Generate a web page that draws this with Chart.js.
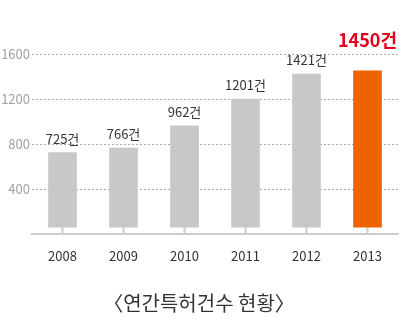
<!DOCTYPE html>
<html>
<head>
<meta charset="utf-8">
<script src="https://cdn.jsdelivr.net/npm/chart.js@4.4.0/dist/chart.umd.min.js"></script>
<style>
  html, body { margin: 0; padding: 0; background: #fff; }
  #wrap { width: 405px; height: 328px; position: relative; }
</style>
</head>
<body>
<div id="wrap"><canvas id="patentChart"></canvas></div>
<script>
// yearly patent counts
const years = ["2008", "2009", "2010", "2011", "2012", "2013"];
const patents = [725, 766, 962, 1201, 1421, 1450];
const yTicks = [400, 800, 1200, 1600];
const barBase = 65; // bars start a little above the axis line

const FONT = "'Noto Sans CJK KR', 'Noto Sans', sans-serif";
const barColors = patents.map((v, i) => i === patents.length - 1 ? "#ee6200" : "#c8c8c8");

// short stubs joining each bar to the axis line
const barStubs = {
  id: "barStubs",
  beforeDatasetsDraw(chart) {
    const ctx = chart.ctx;
    const y0 = chart.scales.y.getPixelForValue(0);
    ctx.save();
    ctx.strokeStyle = "#cccccc";
    ctx.lineWidth = 2;
    chart.getDatasetMeta(0).data.forEach(bar => {
      ctx.beginPath();
      ctx.moveTo(bar.x, bar.base);
      ctx.lineTo(bar.x, y0);
      ctx.stroke();
    });
    ctx.restore();
  }
};

// "NNN건" labels above the bars, last one highlighted
const valueLabels = {
  id: "valueLabels",
  afterDatasetsDraw(chart) {
    const ctx = chart.ctx;
    chart.getDatasetMeta(0).data.forEach((bar, i) => {
      const last = i === patents.length - 1;
      ctx.save();
      ctx.font = (last ? "bold 18px " : "13px ") + FONT;
      ctx.fillStyle = last ? "#e2001a" : "#333333";
      ctx.textAlign = "center";
      ctx.textBaseline = "middle";
      ctx.fillText(patents[i] + "건", bar.x, bar.y - (last ? 31 : 14));
      ctx.restore();
    });
  }
};

new Chart(document.getElementById("patentChart"), {
  type: "bar",
  data: {
    labels: years,
    datasets: [{
      data: patents.map(v => [barBase, v]),
      backgroundColor: barColors,
      barThickness: 28
    }]
  },
  options: {
    responsive: true,
    maintainAspectRatio: false,
    animation: false,
    layout: { padding: { top: 54, right: 7, left: 0, bottom: 0 } },
    plugins: {
      legend: { display: false },
      tooltip: { enabled: false },
      title: {
        display: true,
        position: "bottom",
        text: "〈연간특허건수 현황〉",
        color: "#333333",
        font: { family: FONT, size: 20, weight: "normal" },
        padding: { top: 13, bottom: 13 }
      }
    },
    scales: {
      x: {
        grid: { display: false, drawTicks: false },
        border: { display: true, color: "#cccccc", width: 2 },
        ticks: { color: "#333333", font: { family: FONT, size: 13 }, padding: 14 }
      },
      y: {
        min: 0,
        max: 1600,
        afterBuildTicks: scale => { scale.ticks = yTicks.map(v => ({ value: v })); },
        afterFit: scale => { scale.width = 32; },
        grid: { color: "#aaaaaa", drawTicks: false },
        border: { display: false, dash: [2, 2] },
        ticks: {
          color: "#a0a0a0",
          font: { family: FONT, size: 13 },
          padding: 2,
          callback: v => String(v)
        }
      }
    }
  },
  plugins: [barStubs, valueLabels]
});
</script>
</body>
</html>
